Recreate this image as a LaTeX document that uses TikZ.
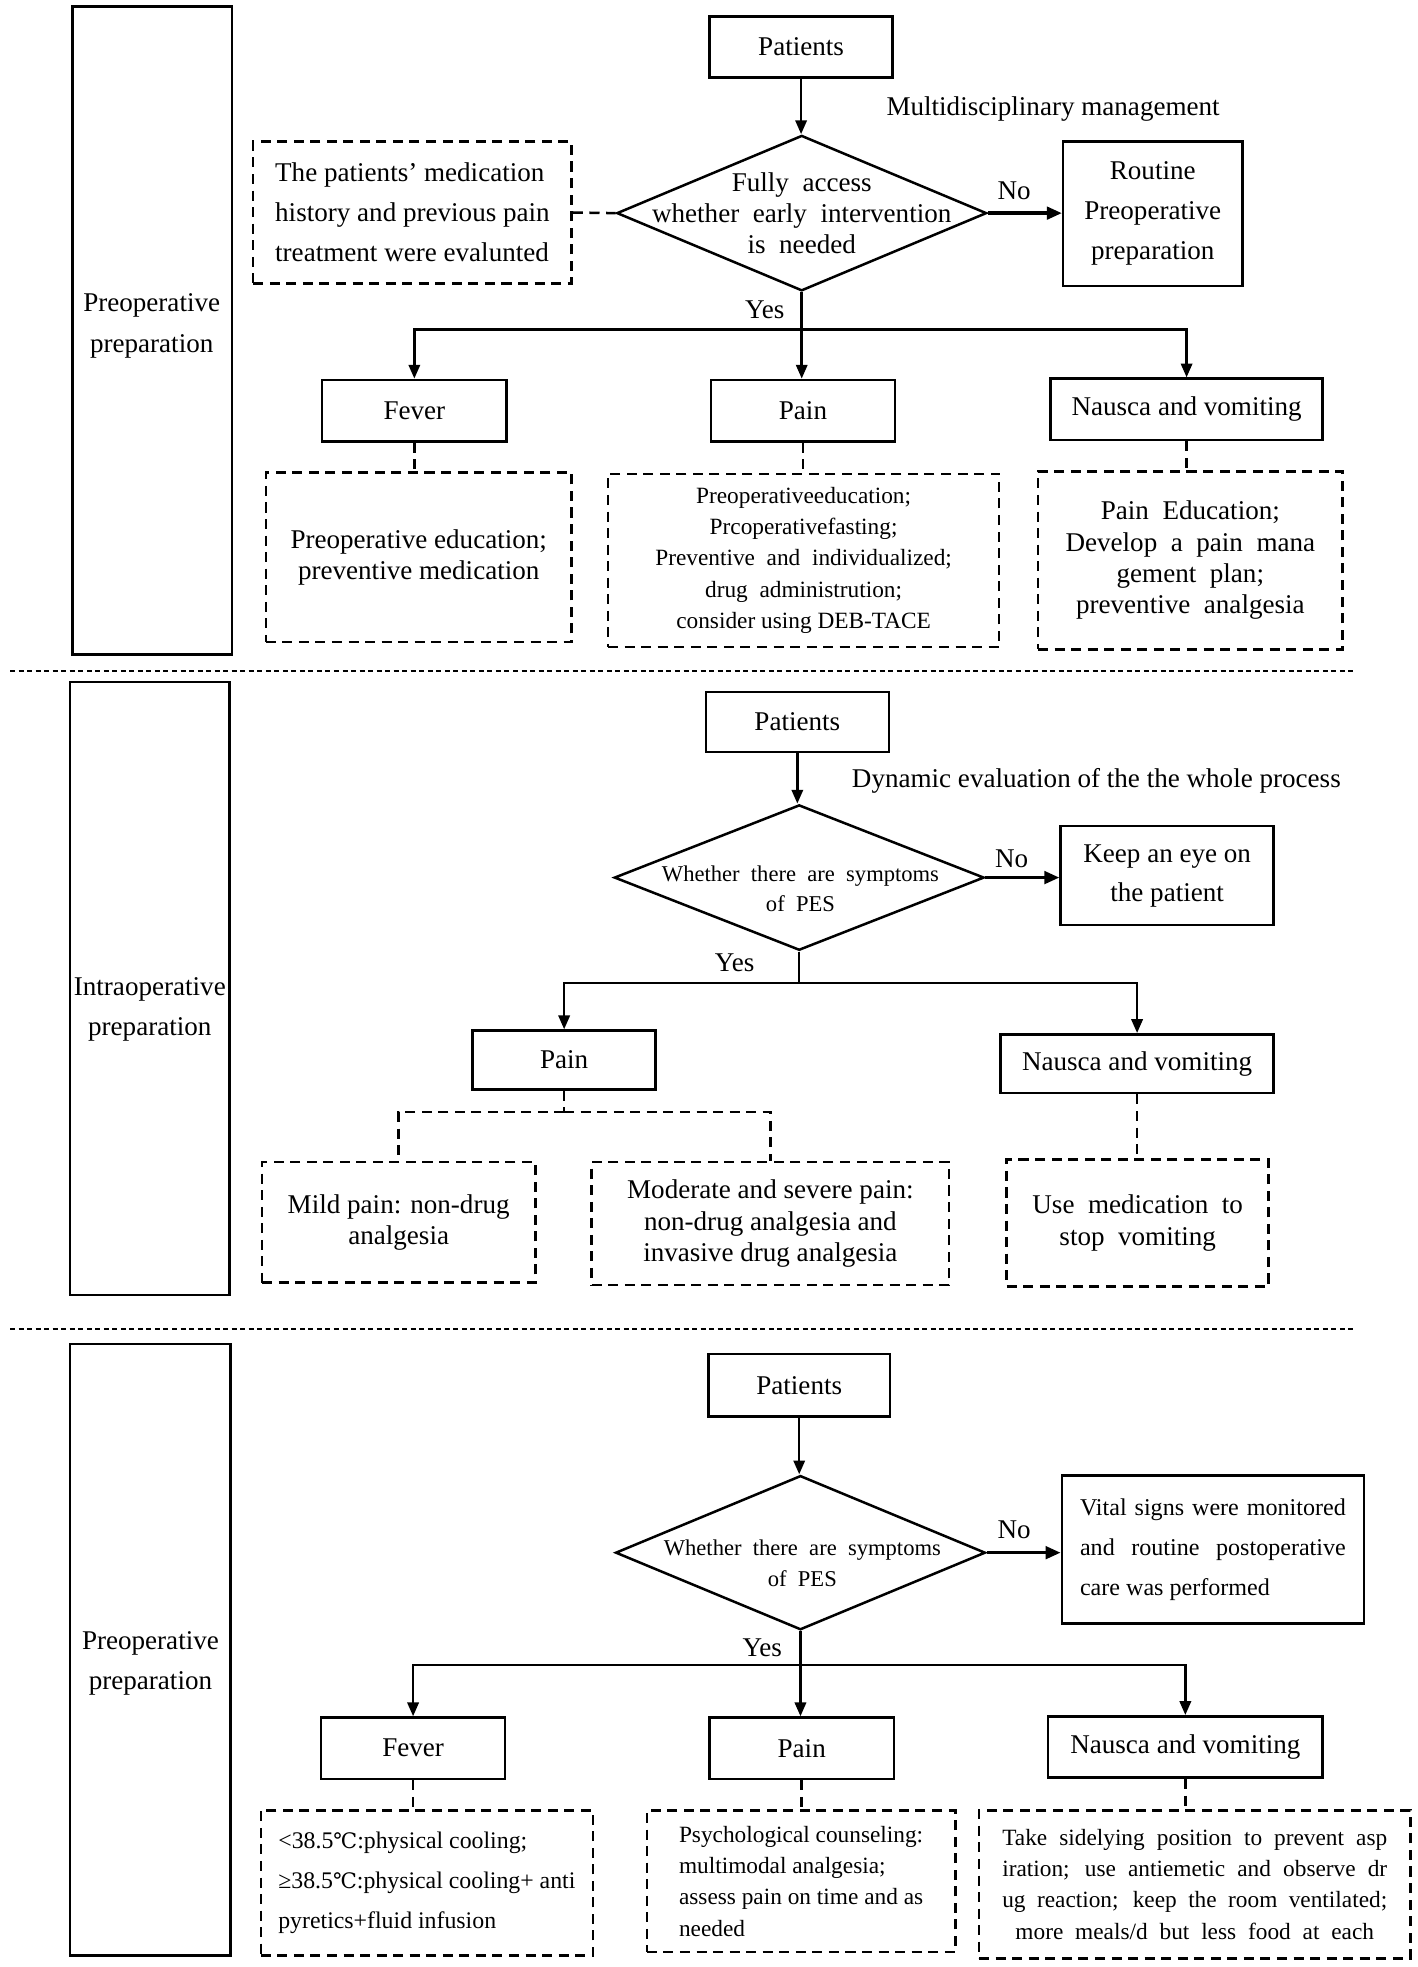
\documentclass[tikz,border=0pt]{standalone}
\usepackage{fontspec}
\setmainfont{Liberation Serif}
\newfontfamily\dejavu{DejaVu Serif}
\usetikzlibrary{arrows.meta,shapes.geometric}
\newcommand\fz[2]{\fontsize{#1}{#2}\selectfont}
\newcommand\jl[2]{\makebox[#1][s]{#2}}
\begin{document}
\begin{tikzpicture}[x=0.5pt,y=-0.5pt,
  box/.style={draw, line width=1pt, inner sep=0pt, align=center, font=\fz{10.8}{16}},
  dbox/.style={draw, line width=1pt, dash pattern=on 4pt off 2.6pt, inner sep=0pt, align=center},
  sz/.style 2 args={minimum width=#1, minimum height=#2},
  dia/.style={diamond, draw, line width=1pt, inner sep=0pt},
  ln/.style={line width=1pt},
  arr/.style={line width=1pt, -{Triangle[length=5.5pt,width=4.5pt]}},
  noarr/.style={line width=1.3pt, -{Triangle[length=6pt,width=5pt]}},
  dln/.style={line width=1pt, dash pattern=on 4pt off 2.6pt},
  sep/.style={line width=0.7pt, dash pattern=on 2pt off 1.4pt},
  lbl/.style={font=\fz{10.8}{13}, inner sep=0pt},
]
\path[fill=white, use as bounding box] (0,0) rectangle (1130.3,1569);

% ---------------- Section 1 ----------------
\node[box, sz={63.5pt}{258.5pt}] (L1) at (121.5,263.5) {};
\node[lbl, align=center, font=\fz{10.8}{16}] (L1t) at (121,260) {Preoperative\\preparation};
\node[box, sz={73pt}{24.5pt}] (p1) at (639,37.5) {Patients};
\node[lbl] (mm) at (840,87) {Multidisciplinary management};
\node[dia, minimum width=147.5pt, minimum height=62pt] (d1) at (639.5,170) {};
\node[lbl, align=center, font=\fz{10.8}{12.5}] (d1t) at (639.5,170) {Fully~~access\\whether~~early~~intervention\\is~~needed};
\node[dbox, sz={127pt}{56.5pt}, font=\fz{10.8}{16}, align=left] (h1) at (329,169.5) {The patients' medication\\history and previous pain\\treatment were evalunted};
\node[box, sz={71.5pt}{57.5pt}] (r1) at (919.5,170.5) {Routine\\Preoperative\\preparation};
\node[lbl] (no1) at (809,152) {No};
\node[lbl] (y1) at (610,247) {Yes};
\coordinate (j1) at (639.5,263);
\node[box, sz={73.5pt}{24.5pt}] (f1) at (330.5,327.5) {Fever};
\node[box, sz={73.5pt}{24.5pt}] (pa1) at (640.5,327.5) {Pain};
\node[box, sz={108.5pt}{24.5pt}] (n1) at (946.5,326.5) {Nausca and vomiting};
\node[dbox, sz={122pt}{67.5pt}, font=\fz{10.8}{12.5}] (fd1) at (334,444.5) {Preoperative education;\\preventive medication};
\node[dbox, sz={156pt}{69pt}, font=\fz{9.3}{12.5}] (pd1) at (641,447) {Preoperativeeducation;\\Prcoperativefasting;\\Preventive~~and~~individualized;\\drug~~administrution;\\consider using DEB-TACE};
\node[dbox, sz={121.5pt}{71pt}, font=\fz{10.8}{12.5}] (nd1) at (949.5,447) {Pain~~Education;\\Develop~~a~~pain~~mana\\gement~~plan;\\preventive~~analgesia};

\draw[arr] (p1.south) -- (p1.south |- d1.north);
\draw[dln] (h1.east) -- (d1.west);
\draw[noarr] (d1.east) -- (d1.east -| r1.west);
\draw[ln] (d1.south) -- (j1);
\draw[arr] (j1) -| (f1.north);
\draw[arr] (j1) -- (j1 |- pa1.north);
\draw[arr] (j1) -| (n1.north);
\draw[dln] (f1.south) -- (f1.south |- fd1.north);
\draw[dln] (pa1.south) -- (pa1.south |- pd1.north);
\draw[dln] (n1.south) -- (n1.south |- nd1.north);

\coordinate (s1a) at (8,535);
\coordinate (s1b) at (1082,535);
\draw[sep] (s1a) -- (s1b);

% ---------------- Section 2 ----------------
\node[box, sz={63.5pt}{244.5pt}] (L2) at (119.5,788.5) {};
\node[lbl, align=center, font=\fz{10.8}{16}] (L2t) at (119.5,805) {Intraoperative\\preparation};
\node[box, sz={73pt}{24pt}] (p2) at (636,576) {Patients};
\node[lbl] (de) at (874.5,623) {Dynamic evaluation of the the whole process};
\node[dia, minimum width=147.5pt, minimum height=58pt] (d2) at (637.5,700) {};
\node[lbl, align=center, font=\fz{9}{12}] (d2t) at (638.5,709) {Whether~~there~~are~~symptoms\\of~~PES};
\node[lbl] (no2) at (807,685) {No};
\node[box, sz={85pt}{39.5pt}, font=\fz{10.8}{15.5}] (k2) at (931,698.5) {Keep an eye on\\the patient};
\node[lbl] (y2) at (586,768) {Yes};
\coordinate (j2) at (637.5,784);
\node[box, sz={73pt}{23.5pt}] (pa2) at (450,845.5) {Pain};
\node[box, sz={109pt}{23.5pt}] (n2) at (907,848.5) {Nausca and vomiting};
\coordinate (t2) at (450,887);
\node[dbox, sz={109pt}{48pt}, font=\fz{10.8}{12.5}] (m2) at (318,975) {Mild pain: non-drug\\analgesia};
\node[dbox, sz={142.5pt}{49pt}, font=\fz{10.8}{12.5}] (ms2) at (614.5,976) {Moderate and severe pain:\\non-drug analgesia and\\invasive drug analgesia};
\node[dbox, sz={104.5pt}{50.5pt}, font=\fz{10.8}{12.5}] (nd2) at (907.5,975.5) {Use~~medication~~to\\stop~~vomiting};

\draw[arr] (p2.south) -- (p2.south |- d2.north);
\draw[noarr] (d2.east) -- (d2.east -| k2.west);
\draw[ln] (d2.south) -- (j2);
\draw[arr] (j2) -| (pa2.north);
\draw[arr] (j2) -| (n2.north);
\draw[dln] (pa2.south) -- (t2);
\draw[dln] (t2) -| (m2.north);
\draw[dln] (t2) -| (ms2.north);
\draw[dln] (n2.south) -- (n2.south |- nd2.north);

\coordinate (s2a) at (8,1060);
\coordinate (s2b) at (1080,1060);
\draw[sep] (s2a) -- (s2b);

% ---------------- Section 3 ----------------
\node[box, sz={64pt}{244pt}] (L3) at (120,1316) {};
\node[lbl, align=center, font=\fz{10.8}{16}] (L3t) at (120,1327) {Preoperative\\preparation};
\node[box, sz={72.5pt}{25pt}] (p3) at (637.5,1105) {Patients};
\node[dia, minimum width=147.5pt, minimum height=61.5pt] (d3) at (638.5,1238.5) {};
\node[lbl, align=center, font=\fz{9}{12.5}] (d3t) at (640,1247) {Whether~~there~~are~~symptoms\\of~~PES};
\node[lbl] (no3) at (809,1220) {No};
\node[box, sz={120.5pt}{59pt}, font=\fz{9.6}{16}, align=left] (v3) at (967.5,1236) {\jl{106pt}{Vital signs were monitored}\\\jl{106pt}{and routine postoperative}\\care was performed};
\node[lbl] (y3) at (608,1314) {Yes};
\coordinate (j3) at (638.5,1328);
\node[box, sz={73.5pt}{24.5pt}] (f3) at (329.5,1394.5) {Fever};
\node[box, sz={73.5pt}{24.5pt}] (pa3) at (639.5,1394.5) {Pain};
\node[box, sz={109.5pt}{24.5pt}] (n3) at (945.5,1393.5) {Nausca and vomiting};
\node[dbox, sz={132.5pt}{58pt}, font=\fz{9.5}{16}, align=left] (fd3) at (340.5,1502) {<38.5{\dejavu\fontsize{8.5}{16}\selectfont ℃}:physical cooling;\\≥38.5{\dejavu\fontsize{8.5}{16}\selectfont ℃}:physical cooling+ anti\\pyretics+fluid infusion};
\node[dbox, sz={123pt}{56.5pt}, font=\fz{9.3}{12.5}, align=left] (pd3) at (639,1500.5) {Psychological counseling:\\multimodal analgesia;\\assess pain on time and as\\needed};
\node[dbox, sz={172pt}{59pt}, font=\fz{9.3}{12.5}, align=center] (nd3) at (953,1503) {\jl{153.5pt}{Take sidelying position to prevent asp}\\\jl{153.5pt}{iration; use antiemetic and observe dr}\\\jl{153.5pt}{ug reaction; keep the room ventilated;}\\\jl{143pt}{more meals/d but less food at each}};

\draw[arr] (p3.south) -- (p3.south |- d3.north);
\draw[noarr] (d3.east) -- (d3.east -| v3.west);
\draw[ln] (d3.south) -- (j3);
\draw[arr] (j3) -| (f3.north);
\draw[arr] (j3) -- (j3 |- pa3.north);
\draw[arr] (j3) -| (n3.north);
\draw[dln] (f3.south) -- (f3.south |- fd3.north);
\draw[dln] (pa3.south) -- (pa3.south |- pd3.north);
\draw[dln] (n3.south) -- (n3.south |- nd3.north);
\end{tikzpicture}
\end{document}
